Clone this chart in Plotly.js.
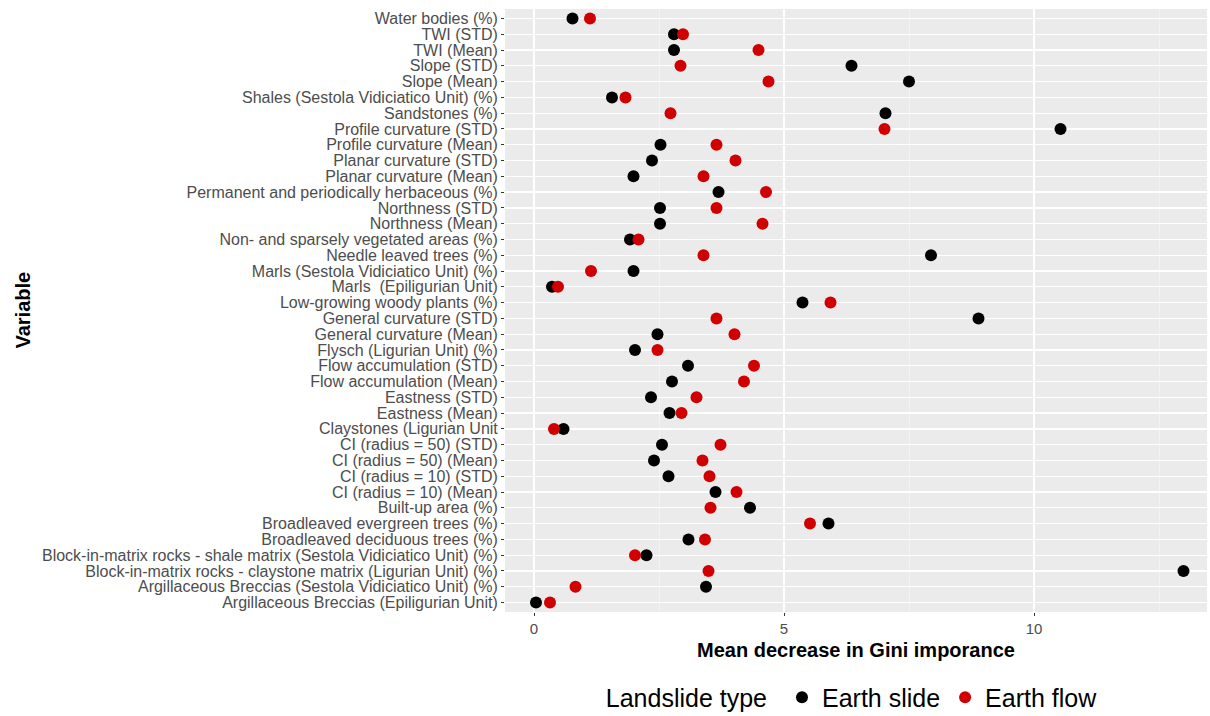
<!DOCTYPE html>
<html>
<head>
<meta charset="utf-8">
<script src="https://cdn.plot.ly/plotly-3.0.1.min.js"></script>
<style>html,body{margin:0;padding:0;background:#fff;}#chart{width:1210px;height:716px;}</style>
</head>
<body>
<div id="chart"></div>
<script>
// Categories, bottom to top
const variables = [
  "Argillaceous Breccias (Epiligurian Unit)",
  "Argillaceous Breccias (Sestola Vidiciatico Unit) (%)",
  "Block-in-matrix rocks - claystone matrix (Ligurian Unit) (%)",
  "Block-in-matrix rocks - shale matrix (Sestola Vidiciatico Unit) (%)",
  "Broadleaved deciduous trees (%)",
  "Broadleaved evergreen trees (%)",
  "Built-up area (%)",
  "CI (radius = 10) (Mean)",
  "CI (radius = 10) (STD)",
  "CI (radius = 50) (Mean)",
  "CI (radius = 50) (STD)",
  "Claystones (Ligurian Unit",
  "Eastness (Mean)",
  "Eastness (STD)",
  "Flow accumulation (Mean)",
  "Flow accumulation (STD)",
  "Flysch (Ligurian Unit) (%)",
  "General curvature (Mean)",
  "General curvature (STD)",
  "Low-growing woody plants (%)",
  "Marls  (Epiligurian Unit)",
  "Marls (Sestola Vidiciatico Unit) (%)",
  "Needle leaved trees (%)",
  "Non- and sparsely vegetated areas (%)",
  "Northness (Mean)",
  "Northness (STD)",
  "Permanent and periodically herbaceous (%)",
  "Planar curvature (Mean)",
  "Planar curvature (STD)",
  "Profile curvature (Mean)",
  "Profile curvature (STD)",
  "Sandstones (%)",
  "Shales (Sestola Vidiciatico Unit) (%)",
  "Slope (Mean)",
  "Slope (STD)",
  "TWI (Mean)",
  "TWI (STD)",
  "Water bodies (%)"
];

const earthSlide = [
  0.04, 3.44, 12.99, 2.25, 3.09, 5.89, 4.32, 3.63, 2.69, 2.40, 2.56, 0.59,
  2.71, 2.34, 2.76, 3.08, 2.02, 2.47, 8.89, 5.37, 0.36, 1.99, 7.94, 1.92,
  2.52, 2.52, 3.69, 1.99, 2.36, 2.53, 10.53, 7.03, 1.56, 7.50, 6.35, 2.80, 2.80, 0.77
];

const earthFlow = [
  0.32, 0.83, 3.49, 2.02, 3.42, 5.52, 3.53, 4.05, 3.51, 3.37, 3.73, 0.40,
  2.95, 3.25, 4.20, 4.40, 2.47, 4.01, 3.65, 5.93, 0.48, 1.14, 3.39, 2.09,
  4.57, 3.65, 4.64, 3.39, 4.03, 3.65, 7.01, 2.73, 1.83, 4.69, 2.93, 4.49, 2.98, 1.12
];

const xTicks = [0, 5, 10];
const seriesNames = ["Earth slide", "Earth flow"];
const seriesColors = ["#000000", "#D10000"];

const traces = [earthSlide, earthFlow].map((vals, i) => ({
  type: "scatter",
  mode: "markers",
  name: seriesNames[i],
  x: vals,
  y: variables,
  marker: {color: seriesColors[i], size: 12, line: {width: 0}},
  hoverinfo: "x+y+name"
}));

const layout = {
  width: 1210,
  height: 716,
  margin: {l: 505, r: 3, t: 9, b: 104},
  paper_bgcolor: "#ffffff",
  plot_bgcolor: "#EBEBEB",
  font: {family: "Liberation Sans, Arial, sans-serif", color: "#4D4D4D"},
  showlegend: true,
  legend: {
    orientation: "h",
    xref: "container", yref: "container",
    x: 0.499, xanchor: "left",
    y: 0.026, yanchor: "middle",
    title: {text: "Landslide type ", font: {size: 25, color: "#000"}, side: "left"},
    font: {size: 25, color: "#000"},
    itemsizing: "constant",
    bgcolor: "rgba(0,0,0,0)"
  },
  xaxis: {
    range: [-0.58, 13.46],
    tickvals: xTicks,
    ticktext: xTicks.map(String),
    showgrid: true,
    gridcolor: "#ffffff",
    gridwidth: 1.3,
    zeroline: false,
    ticks: "outside",
    ticklen: 3,
    tickcolor: "#333333",
    tickfont: {size: 15, color: "#4D4D4D"},
    minor: {dtick: 2.5, tick0: 0, showgrid: true, gridcolor: "#F7F7F7", gridwidth: 0.7, ticks: ""},
    title: {text: "<b>Mean decrease in Gini imporance</b>", font: {size: 20, color: "#000"}, standoff: 6},
    automargin: false,
    showline: false
  },
  yaxis: {
    type: "category",
    categoryorder: "array",
    categoryarray: variables,
    tickmode: "array",
    tickvals: variables,
    ticktext: variables,
    range: [-0.6, variables.length - 0.4],
    showgrid: true,
    gridcolor: "#ffffff",
    gridwidth: 1.3,
    ticks: "outside",
    ticklen: 3,
    tickcolor: "#333333",
    tickfont: {size: 16, color: "#4D4D4D"},
    automargin: false,
    showline: false
  },
  annotations: [{
    text: "<b>Variable</b>",
    xref: "paper", yref: "paper",
    x: -0.688, y: 0.5,
    xanchor: "center", yanchor: "middle",
    textangle: -90,
    showarrow: false,
    font: {size: 20, color: "#000"}
  }]
};

Plotly.newPlot("chart", traces, layout, {displayModeBar: false, staticPlot: true});
</script>
</body>
</html>
